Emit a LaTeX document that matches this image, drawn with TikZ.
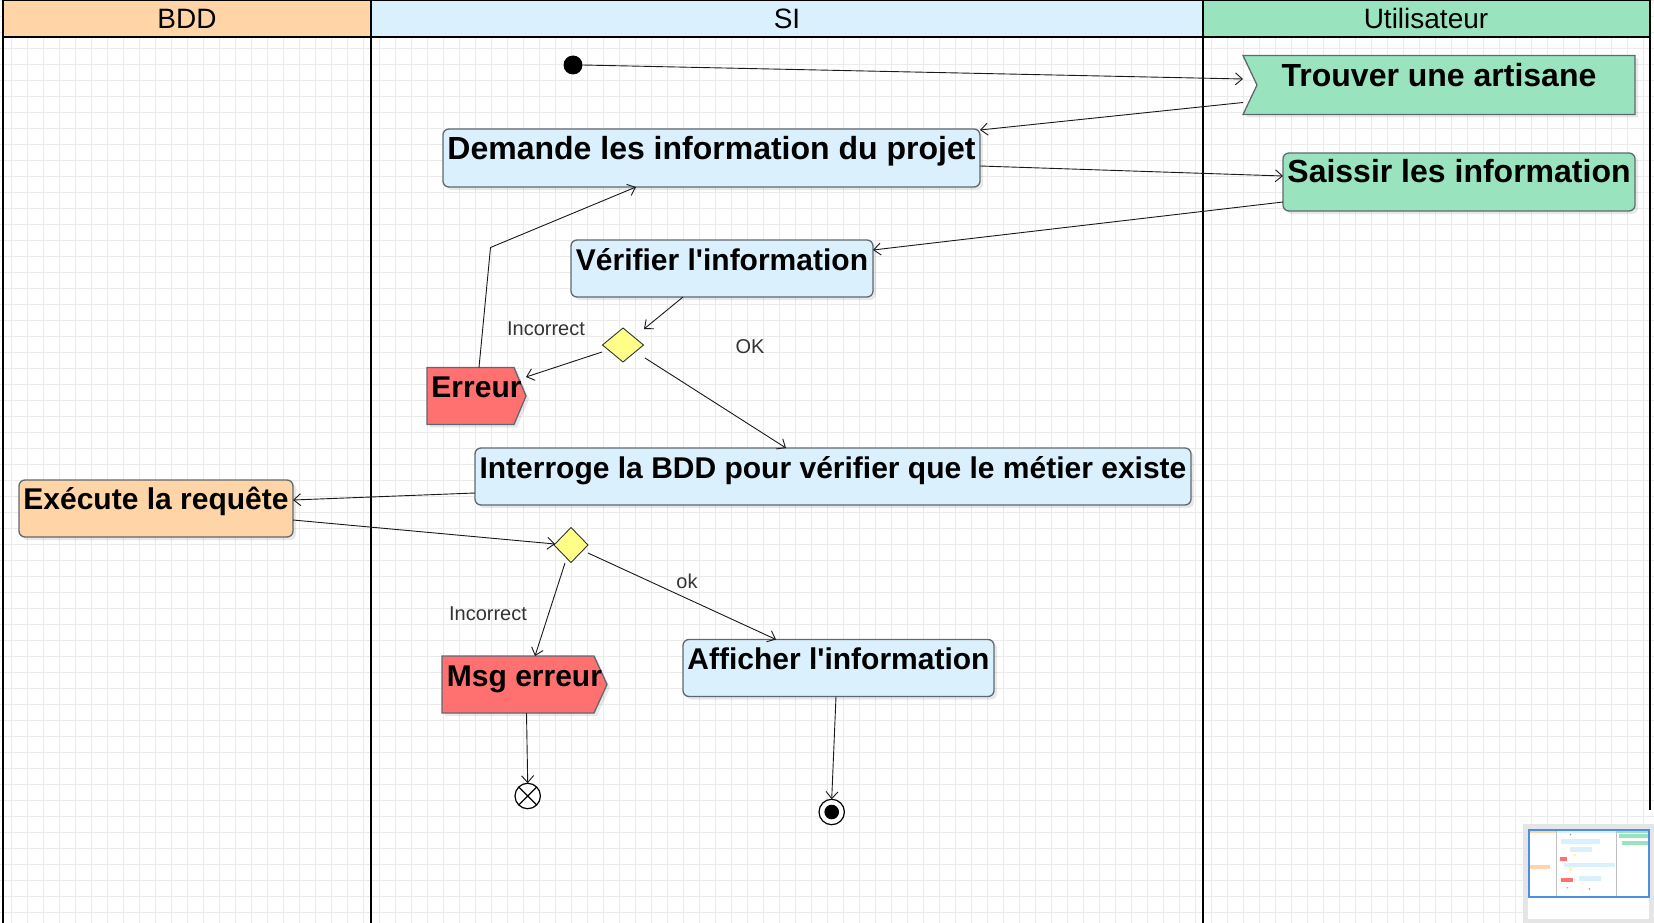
\documentclass[tikz,border=0pt]{standalone}
\usepackage{fontspec}
\setmainfont{Liberation Sans}[Ligatures=TeXOff]
\usetikzlibrary{arrows.meta,shapes.geometric,calc}
\definecolor{siblue}{HTML}{DAF0FD}
\definecolor{peach}{HTML}{FFD4A6}
\definecolor{mint}{HTML}{9AE3BF}
\definecolor{errred}{HTML}{FF7070}
\definecolor{dyellow}{HTML}{FFFF88}
\definecolor{boxline}{HTML}{5F6870}
\definecolor{gridc}{HTML}{EBEBEB}
\definecolor{mapblue}{HTML}{4A90E2}
\tikzset{
  shadowed/.style={preaction={draw=none, fill=black, opacity=0.09, transform canvas={xshift=3pt,yshift=-3pt}}},
  shapebox/.style={rectangle, rounded corners=6pt, draw=boxline, line width=1.3pt, inner sep=0pt, outer sep=0pt, shadowed},
  frame/.style={rectangle, draw=none, inner sep=0pt, outer sep=0pt},
  outline/.style={draw=boxline, line width=1.3pt, shadowed},
  boxtext/.style={anchor=base, inner sep=0pt, font=\fontsize{30}{36}\selectfont\bfseries},
  bigtext/.style={anchor=base, inner sep=0pt, font=\fontsize{32}{38}\selectfont\bfseries},
  lanetext/.style={inner sep=0pt, font=\fontsize{28}{33}\selectfont},
  edgetext/.style={inner sep=0pt, text=black!80, font=\fontsize{20}{24}\selectfont},
  flow/.style={draw=black!90, line width=0.9pt, -{Straight Barb[length=7pt,width=12pt]}},
  decision/.style={diamond, draw=black!80, fill=dyellow, line width=0.9pt, inner sep=0pt, outer sep=0pt},
  lane/.style={draw=black, line width=2pt},
}
\begin{document}
\begin{tikzpicture}[x=1pt,y=-1pt]
\useasboundingbox (0,0) rectangle (1654,923);
\fill[white] (0,0) rectangle (1654,923);
% grid
\foreach \i in {0,...,103} {\draw[gridc, line width=0.8pt] ({11.7+16*\i},0) -- ({11.7+16*\i},923);}
\foreach \j in {0,...,57} {\draw[gridc, line width=0.8pt] (0,{0.7+16*\j}) -- (1654,{0.7+16*\j});}

% lane headers
\node[frame, fill=peach, minimum width=368pt, minimum height=37pt, anchor=north west] (hbdd) at (3,0) {};
\node[frame, fill=siblue, minimum width=832pt, minimum height=37pt, anchor=north west] (hsi) at (371,0) {};
\node[frame, fill=mint, minimum width=447pt, minimum height=37pt, anchor=north west] (huser) at (1203,0) {};
\node[lanetext] (tbdd) at (187,18.5) {BDD};
\node[lanetext] (tsi) at (787,18.5) {SI};
\node[lanetext] (tuser) at (1426,18.5) {Utilisateur};
\draw[line width=1.2pt] (3,0.6) -- (1650,0.6);
\draw[lane] (3,37) -- (1650,37);
\draw[lane] (3,0) -- (3,923);
\draw[lane] (371,0) -- (371,923);
\draw[lane] (1203,0) -- (1203,923);
\draw[lane] (1650,0) -- (1650,810);

% start
\node[circle, fill=black, minimum size=19pt, inner sep=0pt, outer sep=0pt] (start) at (573,65) {};

% Trouver une artisane (accept event)
\node[frame, minimum width=392pt, minimum height=59pt] (trouver) at (1439,85) {};
\filldraw[fill=mint, outline] (trouver.north west) -- (trouver.north east) -- (trouver.south east) -- (trouver.south west) -- ($(trouver.west)+(14,0)$) -- cycle;
\node[bigtext] (ttrouver) at ($(trouver.north)+(0,31)$) {Trouver une artisane};

% action boxes
\node[shapebox, fill=siblue, minimum width=537pt, minimum height=58pt] (dem) at (711.5,158) {};
\node[bigtext] (tdem) at ($(dem.north)+(0,30)$) {Demande les information du projet};

\node[shapebox, fill=mint, minimum width=352pt, minimum height=58pt] (sai) at (1459,182) {};
\node[bigtext] (tsai) at ($(sai.north)+(0,29.5)$) {Saissir les information};

\node[shapebox, fill=siblue, minimum width=302pt, minimum height=57pt] (ver) at (722,268.5) {};
\node[boxtext] (tver) at ($(ver.north)+(0,30)$) {Vérifier l'information};

\node[shapebox, fill=siblue, minimum width=716pt, minimum height=57pt] (int) at (833,476.5) {};
\node[boxtext] (tint) at ($(int.north)+(0,30)$) {Interroge la BDD pour vérifier que le métier existe};

\node[shapebox, fill=peach, minimum width=274pt, minimum height=57pt] (exe) at (156,508.5) {};
\node[boxtext] (texe) at ($(exe.north)+(0,29.5)$) {Exécute la requête};

\node[shapebox, fill=siblue, minimum width=311pt, minimum height=57pt] (aff) at (838.5,668) {};
\node[boxtext] (taff) at ($(aff.north)+(0,30)$) {Afficher l'information};

% send signal shapes
\node[frame, minimum width=99pt, minimum height=57pt] (err) at (476.5,396) {};
\filldraw[fill=errred, outline] (err.north west) -- ($(err.north east)+(-12,0)$) -- (err.east) -- ($(err.south east)+(-12,0)$) -- (err.south west) -- cycle;
\node[boxtext] (terr) at ($(err.north)+(0,30)$) {Erreur};

\node[frame, minimum width=165pt, minimum height=57pt] (msg) at (524.5,684.5) {};
\filldraw[fill=errred, outline] (msg.north west) -- ($(msg.north east)+(-13,0)$) -- (msg.east) -- ($(msg.south east)+(-13,0)$) -- (msg.south west) -- cycle;
\node[boxtext] (tmsg) at ($(msg.north)+(0,30)$) {Msg erreur};

% decisions
\node[decision, minimum width=41pt, minimum height=34pt] (d1) at (623,345) {};
\node[decision, minimum width=34pt, minimum height=35pt] (d2) at (571,545) {};

% finals
\node[circle, draw=black, line width=1.2pt, fill=white, minimum size=25.4pt, inner sep=0pt, outer sep=0pt] (ff) at (527.7,796) {};
\draw[line width=1.2pt] (ff.north east) -- (ff.south west) (ff.north west) -- (ff.south east);
\node[circle, draw=black, line width=1.2pt, fill=white, minimum size=25.4pt, inner sep=0pt, outer sep=0pt] (fin) at (831.7,812) {};
\node[circle, fill=black, minimum size=14.6pt, inner sep=0pt] (fincore) at (fin) {};

% connectors
\draw[flow] (start.east) -- ($(trouver.west)+(0,-6)$);
\draw[flow] ($(trouver.south west)+(0,-12)$) -- ($(dem.north east)+(0,1)$);
\draw[flow] ($(dem.east)+(0,8)$) -- ($(sai.west)+(0,-6)$);
\draw[flow] ($(sai.west)+(0,20)$) -- ($(ver.north east)+(0,10)$);
\draw[flow] ($(ver.south)+(-39,0)$) -- ($(d1)+(21,-16)$);
\draw[flow] ($(d1)+(-21,7)$) -- ($(err.east)+(0,-19)$);
\draw[flow] ($(d1)+(22,13)$) -- ($(int.north)+(-47,0)$);
\draw[flow] ($(err.north)+(2.5,0)$) -- ($(err.north)+(14,-120)$) -- ($(dem.south)+(-75.5,0)$);
\draw[flow] ($(int.west)+(0,16.5)$) -- ($(exe.east)+(0,-8.5)$);
\draw[flow] ($(exe.east)+(0,11.5)$) -- ($(d2)+(-16,-1)$);
\draw[flow] ($(d2)+(-6,18)$) -- ($(msg.north)+(10.5,0)$);
\draw[flow] ($(d2)+(17,8)$) -- ($(aff.north)+(-62.5,0)$);
\draw[flow] ($(msg.south)+(2,0)$) -- (ff.north);
\draw[flow] ($(aff.south)+(-2.5,0)$) -- (fin.north);

% edge labels
\node[edgetext] (lab1) at (546,329) {Incorrect};
\node[edgetext] (lab2) at (750,347) {OK};
\node[edgetext] (lab3) at (488,614) {Incorrect};
\node[edgetext] (lab4) at (687,581) {ok};

% minimap
\fill[black!10] (1523,824) rectangle (1654,923);
\fill[white] (1528,829) rectangle (1649,919);
\begin{scope}[shift={(1529,830)}, scale=0.0726]
  \fill[peach] (3,0) rectangle (371,37);
  \fill[siblue] (371,0) rectangle (1203,37);
  \fill[mint] (1203,0) rectangle (1650,37);
  \draw[black!25, line width=0.6pt] (371,0) -- (371,920) (1203,0) -- (1203,920);
  \fill[black!40] (573,65) circle (12);
  \fill[mint] (1243,55) rectangle (1635,115);
  \fill[siblue] (443,129) rectangle (980,187);
  \fill[mint] (1283,153) rectangle (1635,211);
  \fill[siblue] (571,240) rectangle (873,297);
  \fill[errred] (427,367) rectangle (526,424);
  \fill[dyellow] (603,328) rectangle (643,362);
  \fill[siblue] (475,448) rectangle (1191,505);
  \fill[peach] (19,480) rectangle (293,537);
  \fill[dyellow] (554,528) rectangle (588,562);
  \fill[errred] (442,656) rectangle (607,713);
  \fill[siblue] (683,640) rectangle (994,697);
  \fill[black!30] (527,796) circle (12);
  \fill[black!40] (832,812) circle (12);
\end{scope}
\draw[mapblue, line width=1.2pt] (1529,830) rectangle (1649,897);
\end{tikzpicture}
\end{document}
